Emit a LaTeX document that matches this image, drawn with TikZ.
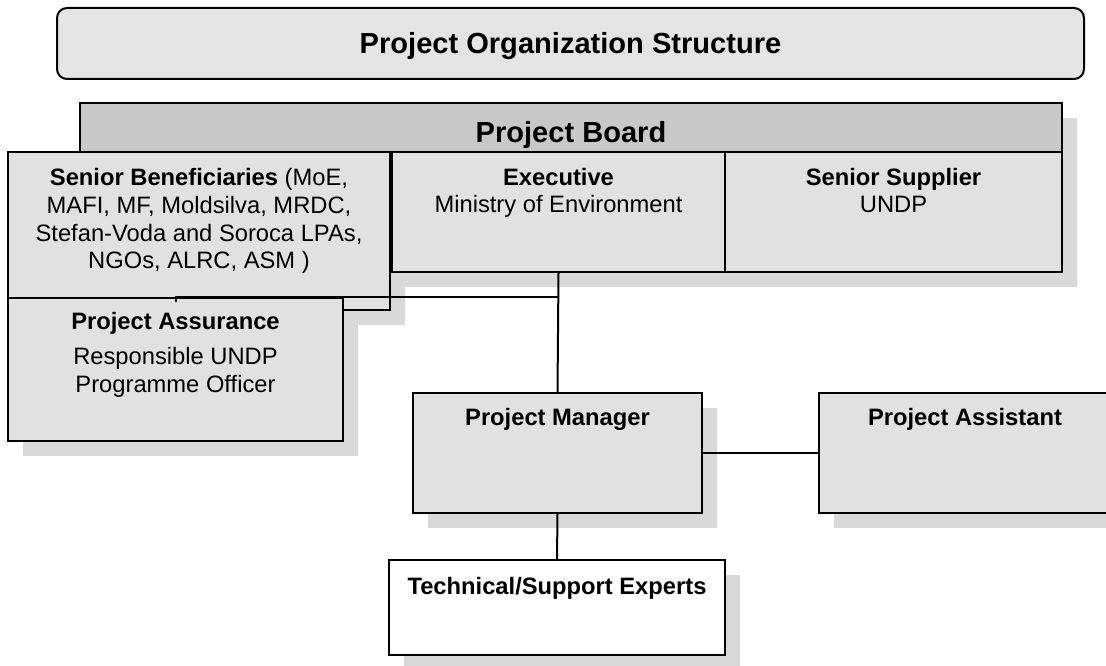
\documentclass[tikz,border=0pt]{standalone}
\usepackage{fontspec}
\setmainfont{Liberation Sans}
\usetikzlibrary{shadows}

\definecolor{boxgray}{HTML}{E1E1E1}
\definecolor{boardgray}{HTML}{C8C8C8}
\definecolor{titlegray}{HTML}{E4E4E4}
\definecolor{shadowgray}{HTML}{D9D9D9}

\newcommand\boxfont{\fontsize{17.8pt}{20.75pt}\selectfont}
\newcommand\headfont{\fontsize{21.8pt}{26pt}\selectfont\bfseries}
\newcommand\topstrut{\rule{0pt}{14pt}}

\tikzset{
  orgbox/.style={draw=black, line width=1.5pt, rectangle, inner sep=0pt, fill=boxgray},
  shadowed/.style={drop shadow={shadow xshift=11.25pt, shadow yshift=-11.25pt,
                   fill=shadowgray, opacity=1}},
  txt/.style={anchor=north, inner sep=0pt, align=center, font=\boxfont},
  headtxt/.style={anchor=base, inner sep=0pt, font=\headfont},
  link/.style={draw=black, line width=1.5pt},
}

\begin{document}
\begin{tikzpicture}[x=0.75pt, y=-0.75pt]
  \useasboundingbox (0,0) rectangle (1106,666);
  \clip (0,0) rectangle (1106,666);

  % heading banner
  \node[orgbox, fill=titlegray, rounded corners=7.5pt,
        minimum width=770.25pt, minimum height=53.25pt] (title) at (570.5,43.5) {};
  \node[headtxt] (title-t) at (570.5,54) {Project Organization Structure};

  % project board frame
  \node[orgbox, fill=boardgray, shadowed,
        minimum width=736.5pt, minimum height=126.75pt] (board) at (571,187.5) {};
  \node[headtxt] (board-t) at (571,143) {Project Board};

  % board members
  \node[orgbox, shadowed, minimum width=286.5pt, minimum height=118.5pt] (ben) at (199,231) {};
  \node[txt] (ben-t) at ([yshift=-12pt]ben.north)
    {\topstrut\textbf{Senior Beneficiaries} (MoE,\\ MAFI, MF, Moldsilva, MRDC,\\
     Stefan-Voda and Soroca LPAs,\\ NGOs, ALRC, ASM )};

  \node[orgbox, minimum width=249.75pt, minimum height=90pt] (exec) at (558.5,212) {};
  \node[txt] (exec-t) at ([yshift=-11.5pt]exec.north)
    {\topstrut\textbf{Executive}\\ Ministry of Environment};

  \node[orgbox, minimum width=252.75pt, minimum height=90pt] (supp) at (893.5,212) {};
  \node[txt] (supp-t) at ([yshift=-11.5pt]supp.north)
    {\topstrut\textbf{Senior Supplier}\\ UNDP};

  % assurance
  \node[orgbox, shadowed, minimum width=251.25pt, minimum height=107.25pt] (assur) at (175.5,369.5) {};
  \node[txt] (assur-t) at ([yshift=-10pt]assur.north)
    {\topstrut\textbf{Project Assurance}\\[6pt] Responsible UNDP\\ Programme Officer};

  % management level
  \node[orgbox, shadowed, minimum width=216.75pt, minimum height=90pt] (pm) at (557.5,453) {};
  \node[txt] (pm-t) at ([yshift=-10.75pt]pm.north) {\topstrut\textbf{Project Manager}};

  % assistant box runs past the right edge of the page
  \node[orgbox, shadowed, minimum width=234pt, minimum height=90pt] (pa) at (975,453) {};
  \node[txt] (pa-t) at ([yshift=-10.75pt]pa.north -| 965,0) {\topstrut\textbf{Project Assistant}};

  \node[orgbox, shadowed, fill=white, minimum width=252pt, minimum height=71.25pt] (tech) at (557,607.5) {};
  \node[txt] (tech-t) at ([yshift=-12.25pt]tech.north) {\topstrut\textbf{Technical/Support Experts}};

  % connectors
  \coordinate (jn) at (exec.south |- assur.north);
  \draw[link] (exec.south) -- (pm.north);
  \draw[link] (jn) -- (assur.north) -- ++(0,5);
  \draw[link] (pm.south) -- (tech.north);
  \draw[link] (pm.east) -- (pa.west);
\end{tikzpicture}
\end{document}
